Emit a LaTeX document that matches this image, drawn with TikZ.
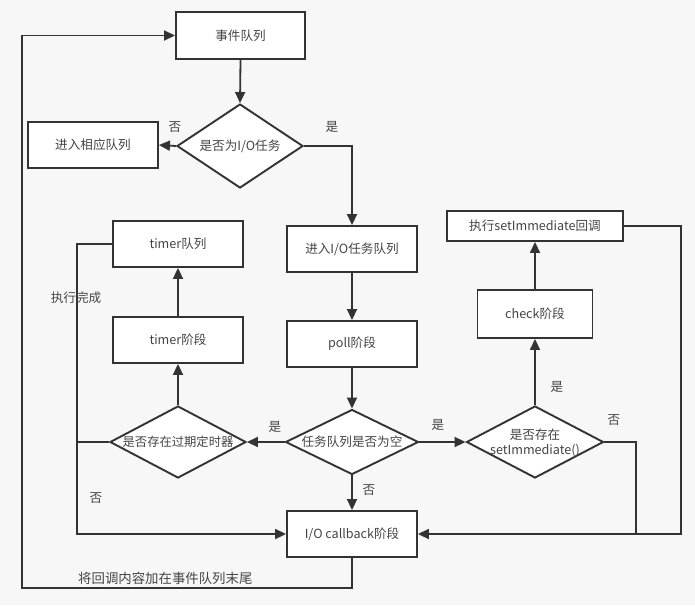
\documentclass[tikz,border=0pt]{standalone}
\usepackage{fontspec}
\setmainfont{Noto Sans CJK SC}
\usetikzlibrary{shapes.geometric,arrows.meta}
\definecolor{bg}{HTML}{F7F7F7}
\definecolor{ln}{HTML}{333333}
\definecolor{tx}{HTML}{444444}
\begin{document}
\begin{tikzpicture}[x=1pt,y=-1pt,
  every node/.style={font=\fontsize{12.6}{15}\selectfont, text=tx},
  box/.style={draw=ln, line width=1.9pt, fill=white, inner sep=0pt, minimum width=#1},
  box/.default=130pt,
  dia/.style={diamond, draw=ln, line width=1.9pt, fill=white, inner sep=0pt},
  arr/.style={draw=ln, line width=1.8pt, -{Triangle[length=11pt,width=10pt]}},
  ln/.style={draw=ln, line width=1.8pt},
  lab/.style={inner sep=0pt}]
\fill[bg] (0,0) rectangle (695,605);
\useasboundingbox (0,0) rectangle (695,605);

% boxes
\node[box=129pt, minimum height=47pt] (q) at (240.5,35.5) {事件队列};
\node[box, minimum height=46pt] (enter) at (93,145) {进入相应队列};
\node[box, minimum height=46pt] (ioq) at (352,249) {进入I/O任务队列};
\node[box, minimum height=46pt] (poll) at (352,344) {poll阶段};
\node[box, minimum height=46pt] (tq) at (178,244) {timer队列};
\node[box, minimum height=46pt] (tphase) at (178,340) {timer阶段};
\node[box=115pt, minimum height=48pt] (check) at (535,314) {check阶段};
\node[box=176pt, minimum height=30pt] (sim) at (535,226) {执行setImmediate回调};
\node[box, minimum height=46pt] (cb) at (352,534) {I/O callback阶段};

% diamonds
\node[dia, minimum width=126pt, minimum height=84pt] (d1) at (240,146) {};
\node[lab] (d1t) at (d1) {是否为I/O任务};
\node[dia, minimum width=136pt, minimum height=72pt] (d3) at (178,442) {};
\node[lab] (d3t) at (d3) {\fontsize{12.3}{15}\selectfont 是否存在过期定时器};
\node[dia, minimum width=133pt, minimum height=65pt] (d2) at (352,442) {};
\node[lab] (d2t) at (d2) {任务队列是否为空};
\node[dia, minimum width=137pt, minimum height=72pt] (d4) at (535,442) {};
\node[lab, align=center] (d4t) at (535,443) {是否存在\\setImmediate()};

% helper coordinates
\coordinate (cL) at (77,244);
\coordinate (cR) at (681,226);
\coordinate (cR2) at (636,442);
\coordinate (b1) at (352,588);
\coordinate (b2) at (22,588);

% connectors
\draw[arr] (q.south) -- (d1.north);
\draw[arr] (d1.west) -- (enter.east);
\draw[arr] (d1.east) -| (ioq.north);
\draw[arr] (ioq.south) -- (poll.north);
\draw[arr] (poll.south) -- (d2.north);
\draw[arr] (d2.west) -- (d3.east);
\draw[arr] (d2.east) -- (d4.west);
\draw[arr] (d2.south) -- (cb.north);
\draw[arr] (d3.north) -- (tphase.south);
\draw[arr] (tphase.north) -- (tq.south);
\draw[arr] (tq.west) -- (cL) |- (cb.west);
\draw[ln] (d3.west) -- (d3.west -| cL);
\draw[arr] (d4.north) -- (check.south);
\draw[arr] (check.north) -- (sim.south);
\draw[arr] (sim.east) -- (cR) |- (cb.east);
\draw[ln] (d4.east) -- (cR2) -- (cR2 |- cb.east);
\draw[arr] (cb.south) -- (b1) -- (b2) |- (q.west);

% labels
\node[lab] (l1) at (175,127) {否};
\node[lab] (l2) at (332,127) {是};
\node[lab] (l3) at (76,298) {执行完成};
\node[lab] (l4) at (275,427) {是};
\node[lab] (l5) at (438,425) {是};
\node[lab] (l6) at (369,490) {否};
\node[lab] (l7) at (557,387) {是};
\node[lab] (l8) at (614,420) {否};
\node[lab] (l9) at (96,498) {否};
\node[lab, anchor=west, font=\fontsize{13.4}{15}\selectfont] (l10) at (78,578) {将回调内容加在事件队列末尾};
\end{tikzpicture}
\end{document}
